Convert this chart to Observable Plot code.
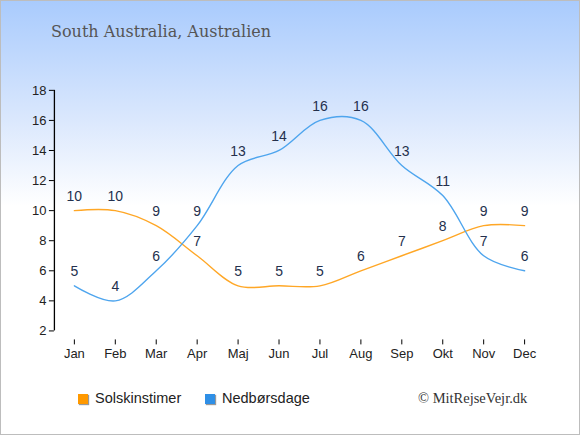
<!DOCTYPE html>
<html>
<head>
<meta charset="utf-8">
<script src="https://cdn.jsdelivr.net/npm/d3@7"></script>
<script src="https://cdn.jsdelivr.net/npm/@observablehq/plot@0.6"></script>
<style>
  html, body { margin: 0; padding: 0; }
  #wrap {
    position: relative; width: 578px; height: 433px;
    border: 1px solid #bdbdbd;
    background: linear-gradient(to bottom, #a9cbfd 0px, #dbe8fd 120px, #ffffff 205px, #ffffff 433px);
    overflow: hidden;
  }
  #chart { position: absolute; left: -1px; top: -1px; }
  .title { position: absolute; left: 50px; top: 21px; font-family: "DejaVu Serif", serif; font-size: 16px; color: #555; white-space: nowrap; }
  .legend { position: absolute; top: 389px; font-family: "Liberation Sans", Arial, sans-serif; font-size: 14.5px; color: #222; white-space: nowrap; }
  .sw { position: absolute; top: 4px; left: 0; width: 10px; height: 10px; box-shadow: 1px 1px 1px #999; }
  .legend span.t { position: absolute; left: 17px; top: 0; }
  .copy { position: absolute; left: 417px; top: 389px; font-family: "Liberation Serif", serif; font-size: 14.5px; color: #333; white-space: nowrap; }
</style>
</head>
<body>
<div id="wrap">
  <div id="chart"></div>
  <div class="title">South Australia, Australien</div>
  <div class="legend" style="left:77px"><div class="sw" style="background:#ff9900"></div><span class="t">Solskinstimer</span></div>
  <div class="legend" style="left:204px"><div class="sw" style="background:#2f8fe6"></div><span class="t">Nedbørsdage</span></div>
  <div class="copy">© MitRejseVejr.dk</div>
</div>
<script>
const months = ["Jan","Feb","Mar","Apr","Maj","Jun","Jul","Aug","Sep","Okt","Nov","Dec"];
const sunHours = [10,10,9,7,5,5,5,6,7,8,9,9];
const rainDays = [5,4,6,9,13,14,16,16,13,11,7,6];
const yTicks = [2,4,6,8,10,12,14,16,18];

const sunData = months.map((m, i) => ({month: m, value: sunHours[i]}));
const rainData = months.map((m, i) => ({month: m, value: rainDays[i]}));

const labelColor = "#24304d";

const plot = Plot.plot({
  width: 580,
  height: 435,
  marginTop: 90,
  marginBottom: 95,
  marginLeft: 54,
  marginRight: 55,
  style: {background: "transparent", fontFamily: "Liberation Sans, Arial, sans-serif", fontSize: "13px", color: "#222"},
  x: {type: "point", domain: months, range: [74, 525], padding: 0},
  y: {domain: [2, 18], range: [331, 90]},
  marks: [
    Plot.ruleX([months[0]], {y1: yTicks[0], y2: yTicks[yTicks.length - 1], dx: -20, stroke: "#000", strokeWidth: 1.3}),
    Plot.ruleY([yTicks[0]], {x1: months[0], x2: months[months.length - 1], dy: 9, stroke: "#000", strokeWidth: 1.3}),
    Plot.axisY({ticks: yTicks, tickSize: 5, tickPadding: 3, fontSize: 13, stroke: "#000", fill: "#222", label: null}),
    Plot.axisX({tickSize: 5, tickPadding: 4, fontSize: 13, stroke: "#000", fill: "#222", label: null}),
    Plot.line(sunData, {x: "month", y: "value", curve: "catmull-rom", stroke: "#ffa726", strokeWidth: 1.4}),
    Plot.line(rainData, {x: "month", y: "value", curve: "catmull-rom", stroke: "#4ea5ee", strokeWidth: 1.4}),
    Plot.text(sunData, {x: "month", y: "value", text: d => String(d.value), dy: -14, fill: labelColor, fontSize: 14}),
    Plot.text(rainData, {x: "month", y: "value", text: d => String(d.value), dy: -14, fill: labelColor, fontSize: 14})
  ]
});
document.getElementById("chart").appendChild(plot);
</script>
</body>
</html>
